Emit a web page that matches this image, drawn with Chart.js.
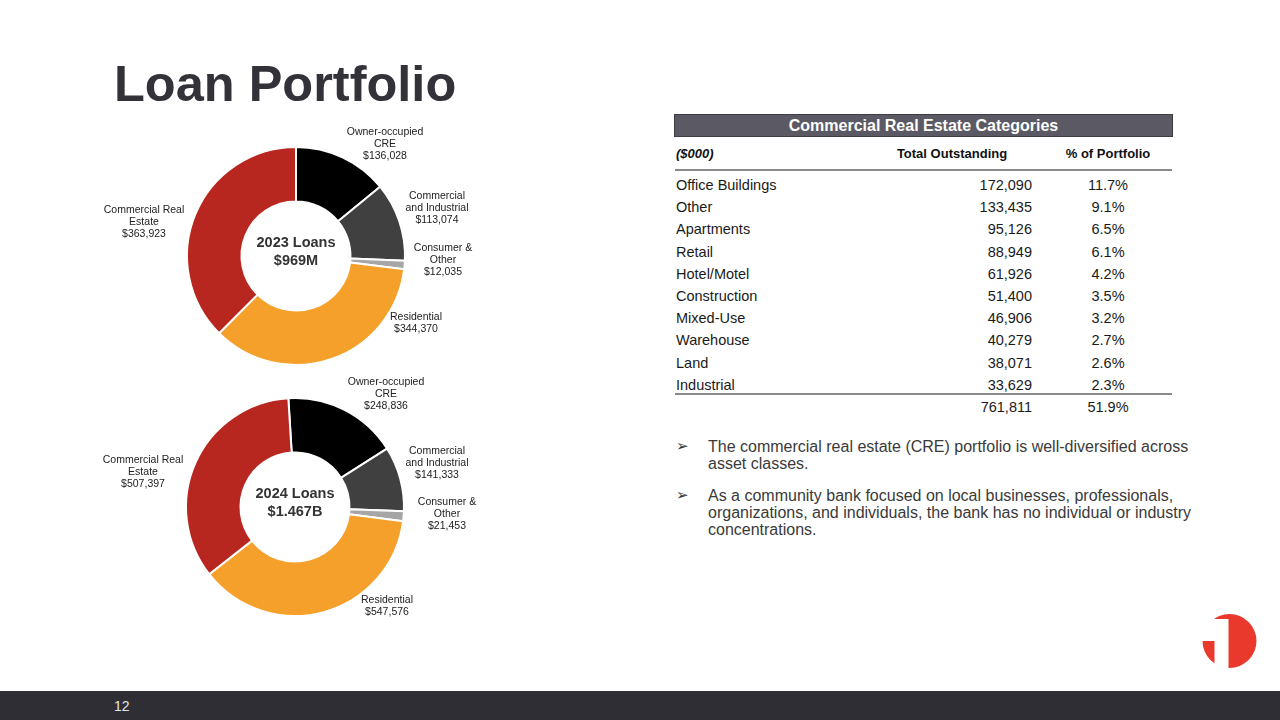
<!DOCTYPE html>
<html>
<head>
<meta charset="utf-8">
<script src="https://cdn.jsdelivr.net/npm/chart.js@4.4.1/dist/chart.umd.min.js"></script>
<style>
  html, body { margin: 0; padding: 0; }
  body { width: 1280px; height: 720px; position: relative; overflow: hidden; background: #fff;
         font-family: "Liberation Sans", Arial, sans-serif; }
  .abs { position: absolute; white-space: nowrap; }
  #title { left: 114px; top: 52px; font-size: 50.5px; font-weight: bold; color: #333238; line-height: 64px; }
  canvas { position: absolute; }
  #cre-head { left: 674px; top: 114px; width: 497px; height: 21px; background: #5b5a64; border: 1px solid #3d3c44;
              color: #fff; font-weight: bold; font-size: 16px; line-height: 22px; text-align: center; }
  .th { top: 145px; font-size: 13px; font-weight: bold; color: #111; line-height: 17px; }
  .rule { position: absolute; left: 675px; width: 497px; height: 2px; background: #8a8a8a; }
  .cell { font-size: 14.5px; color: #1a1a1a; line-height: 18px; }
  .bullet { left: 676px; font-size: 16px; color: #3a3a3a; line-height: 17px; }
  .bullet span { display: inline-block; width: 32px; font-family: "DejaVu Sans", sans-serif; font-size: 15px; color: #333; vertical-align: top; }
  .bullet div { display: inline-block; }
  #footer { left: 0; top: 691px; width: 1280px; height: 29px; background: #2f2e35; }
  #page { left: 114px; top: 697px; font-size: 14px; color: #e6e6e6; line-height: 18px; }
</style>
</head>
<body>
<div id="title" class="abs">Loan Portfolio</div>

<canvas id="donut2023" width="460" height="280" style="left:66px;top:116px"></canvas>
<canvas id="donut2024" width="460" height="280" style="left:65px;top:367px"></canvas>

<div id="cre-head" class="abs">Commercial Real Estate Categories</div>
<div class="abs th" style="left:676px;font-style:italic">($000)</div>
<div class="abs th" style="left:952px;transform:translateX(-50%)">Total Outstanding</div>
<div class="abs th" style="left:1108px;transform:translateX(-50%)">% of Portfolio</div>
<div class="rule" style="top:169px"></div>
<div id="cre-rows"></div>
<div class="rule" style="top:393px"></div>

<div class="abs bullet" style="top:438px"><span>&#10146;</span><div>The commercial real estate (CRE) portfolio is well-diversified across<br>asset classes.</div></div>
<div class="abs bullet" style="top:487px"><span>&#10146;</span><div>As a community bank focused on local businesses, professionals,<br>organizations, and individuals, the bank has no individual or industry<br>concentrations.</div></div>

<svg class="abs" style="left:1196px;top:608px" width="68" height="68" viewBox="1196 608 68 68">
  <circle cx="1229.5" cy="641" r="27" fill="#e8392c"/>
  <polygon points="1200,641 1200,626 1211,619 1228.5,619 1228.5,672 1214.5,672 1214.5,641" fill="#fff"/>
</svg>

<div id="footer" class="abs"></div>
<div id="page" class="abs">12</div>

<script>
// loan mix, $000
const loanCategories = ['Owner-occupied CRE', 'Commercial and Industrial', 'Consumer & Other', 'Residential', 'Commercial Real Estate'];
const loanLabelLines = [['Owner-occupied', 'CRE'], ['Commercial', 'and Industrial'], ['Consumer &', 'Other'], ['Residential'], ['Commercial Real', 'Estate']];
const loans2023 = [136028, 113074, 12035, 344370, 363923];
const loans2024 = [248836, 141333, 21453, 547576, 507397];
const sliceColors = ['#000000', '#404040', '#a6a6a6', '#f5a02a', '#b8271f'];

// CRE breakdown table
const creCategories = ['Office Buildings', 'Other', 'Apartments', 'Retail', 'Hotel/Motel', 'Construction', 'Mixed-Use', 'Warehouse', 'Land', 'Industrial'];
const creOutstanding = [172090, 133435, 95126, 88949, 61926, 51400, 46906, 40279, 38071, 33629];
const crePct = ['11.7%', '9.1%', '6.5%', '6.1%', '4.2%', '3.5%', '3.2%', '2.7%', '2.6%', '2.3%'];
const creTotal = '761,811';
const creTotalPct = '51.9%';

// where each slice label sits, relative to the ring centre
const labelOffsets2023 = [[89, -112], [141, -48], [147, 4], [120, 67], [-152, -34]];
const labelOffsets2024 = [[91, -113], [142, -44], [152, 7], [92, 99], [-152, -35]];

const fmt = n => n.toLocaleString('en-US');

const rowsEl = document.getElementById('cre-rows');
const rowTop = y => `top:${y}px`;
rowsEl.innerHTML = creCategories.map((name, i) => {
  const y = 176 + i * 22.2;
  return `
    <div class="abs cell" style="left:676px;${rowTop(y)}">${name}</div>
    <div class="abs cell" style="right:${1280 - 1032}px;${rowTop(y)}">${fmt(creOutstanding[i])}</div>
    <div class="abs cell" style="left:1108px;transform:translateX(-50%);${rowTop(y)}">${crePct[i]}</div>`;
}).join('') + `
    <div class="abs cell" style="right:${1280 - 1032}px;top:398px">${creTotal}</div>
    <div class="abs cell" style="left:1108px;transform:translateX(-50%);top:398px">${creTotalPct}</div>`;

const donutLabels = {
  id: 'donutLabels',
  afterDraw(chart, args, opts) {
    const ctx = chart.ctx;
    const arc = chart.getDatasetMeta(0).data[0];
    const cx = arc.x, cy = arc.y;
    const values = chart.data.datasets[0].data;
    ctx.save();
    ctx.textAlign = 'center';
    ctx.textBaseline = 'middle';
    ctx.fillStyle = '#222';
    ctx.font = '10.5px "Liberation Sans", Arial, sans-serif';
    loanLabelLines.forEach((lines, i) => {
      const all = [...lines, '$' + fmt(values[i])];
      const [dx, dy] = opts.offsets[i];
      const lh = 12.3;
      const y0 = cy + dy - (all.length - 1) * lh / 2;
      all.forEach((t, k) => ctx.fillText(t, cx + dx, y0 + k * lh));
    });
    ctx.fillStyle = '#333';
    ctx.font = 'bold 14.5px "Liberation Sans", Arial, sans-serif';
    ctx.fillText(opts.center[0], cx, cy - 13.5);
    ctx.fillText(opts.center[1], cx, cy + 4.5);
    ctx.restore();
  }
};

function makeDonut(id, values, rotation, offsets, center) {
  return new Chart(document.getElementById(id), {
    type: 'doughnut',
    data: {
      labels: loanCategories,
      datasets: [{
        data: values,
        backgroundColor: sliceColors,
        borderColor: '#ffffff',
        borderWidth: 2
      }]
    },
    options: {
      responsive: false,
      animation: false,
      radius: 109,
      cutout: '50%',
      rotation,
      plugins: {
        legend: { display: false },
        tooltip: { enabled: false },
        donutLabels: { offsets, center }
      }
    },
    plugins: [donutLabels]
  });
}

makeDonut('donut2023', loans2023, 0, labelOffsets2023, ['2023 Loans', '$969M']);
makeDonut('donut2024', loans2024, -3.5, labelOffsets2024, ['2024 Loans', '$1.467B']);
</script>
</body>
</html>
